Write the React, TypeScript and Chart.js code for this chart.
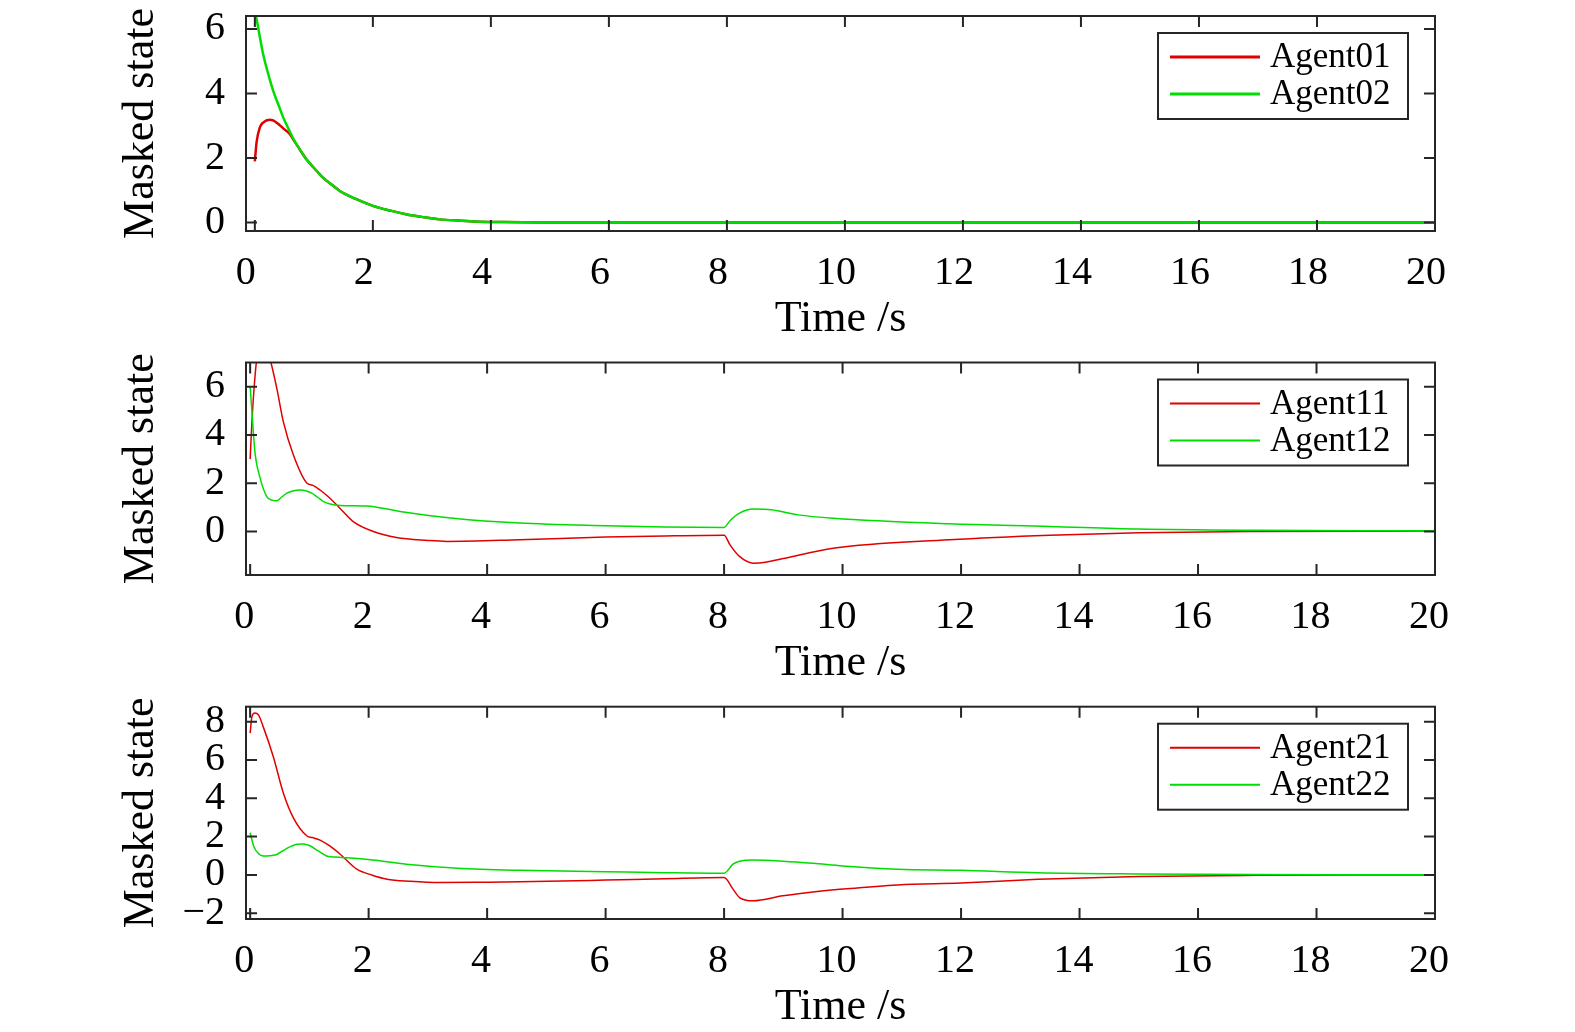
import React, { useEffect, useRef } from 'react';
import { Chart, registerables } from 'chart.js';

Chart.register(...registerables);

const FONT = 'Liberation Serif';
const RED = '#e00000';
const GREEN = '#00dd00';

// shared axis ticks
const xTicks = [0, 2, 4, 6, 8, 10, 12, 14, 16, 18, 20];
const yTicksTop = [0, 2, 4, 6];
const yTicksMid = [0, 2, 4, 6];
const yTicksBot = [-2, 0, 2, 4, 6, 8];

// panel 1: Agent01 / Agent02
const t1 = [0, 0.03, 0.085, 0.14, 0.25, 0.31, 0.42, 0.48, 0.59, 0.65, 0.75, 0.87, 1.0, 1.15, 1.3, 1.44, 1.7, 2.0, 2.3, 2.56, 2.85, 3.13, 3.5, 3.8, 4.2, 5, 6, 8, 10, 12, 14, 16, 18, 20];
const agent01 = [1.9, 2.5, 2.95, 3.1, 3.19, 3.17, 3.02, 2.92, 2.75, 2.58, 2.3, 1.97, 1.7, 1.4, 1.18, 0.98, 0.74, 0.52, 0.37, 0.26, 0.17, 0.1, 0.06, 0.03, 0.015, 0.004, 0, 0, 0, 0, 0, 0, 0, 0];
const agent02 = [6.55, 6.3, 5.75, 5.22, 4.45, 4.09, 3.55, 3.26, 2.83, 2.6, 2.3, 1.97, 1.7, 1.4, 1.18, 0.98, 0.74, 0.52, 0.37, 0.26, 0.17, 0.1, 0.06, 0.03, 0.015, 0.004, 0, 0, 0, 0, 0, 0, 0, 0];

// panel 2: Agent11 / Agent12
const t11 = [0, 0.03, 0.084, 0.12, 0.18, 0.24, 0.3, 0.34, 0.45, 0.56, 0.73, 0.96, 1.05, 1.18, 1.3, 1.49, 1.74, 2.08, 2.47, 3.0, 3.32, 4.55, 6, 7, 8, 8.1, 8.26, 8.5, 8.7, 9.0, 9.84, 11.8, 13.5, 15, 17, 20];
const agent11 = [3.0, 4.55, 6.48, 7.3, 7.9, 7.9, 7.4, 7.1, 5.93, 4.55, 3.17, 2.0, 1.92, 1.72, 1.48, 1.03, 0.41, 0.0, -0.25, -0.37, -0.41, -0.34, -0.23, -0.18, -0.15, -0.55, -1.03, -1.31, -1.27, -1.12, -0.69, -0.34, -0.15, -0.05, 0.0, 0.02];
const t12 = [0, 0.03, 0.08, 0.17, 0.28, 0.37, 0.45, 0.52, 0.62, 0.72, 0.84, 0.95, 1.04, 1.14, 1.24, 1.35, 1.52, 1.97, 2.53, 3.43, 4.55, 6, 7, 8, 8.1, 8.26, 8.5, 8.8, 9.25, 9.84, 11.8, 13.5, 15, 17, 20];
const agent12 = [6.0, 4.97, 3.31, 2.2, 1.45, 1.3, 1.27, 1.4, 1.59, 1.68, 1.72, 1.68, 1.59, 1.42, 1.24, 1.14, 1.08, 1.06, 0.83, 0.55, 0.35, 0.24, 0.19, 0.17, 0.45, 0.76, 0.93, 0.9, 0.69, 0.55, 0.32, 0.21, 0.1, 0.05, 0.03];

// panel 3: Agent21 / Agent22
const t21 = [0, 0.03, 0.08, 0.14, 0.22, 0.39, 0.56, 0.73, 0.96, 1.05, 1.18, 1.35, 1.52, 1.8, 2.05, 2.31, 2.7, 3.2, 4.0, 4.55, 6, 7, 8, 8.15, 8.26, 8.49, 8.99, 9.5, 10, 10.93, 12, 13.3, 15, 17, 20];
const agent21 = [7.4, 8.26, 8.45, 8.35, 7.74, 6.18, 4.28, 2.98, 2.03, 1.95, 1.82, 1.5, 1.08, 0.3, 0.0, -0.22, -0.33, -0.4, -0.38, -0.36, -0.27, -0.2, -0.14, -0.74, -1.18, -1.35, -1.09, -0.89, -0.74, -0.52, -0.42, -0.23, -0.08, -0.02, 0.0];
const t22 = [0, 0.06, 0.14, 0.22, 0.33, 0.45, 0.6, 0.79, 0.9, 1.01, 1.15, 1.29, 1.45, 1.63, 2.0, 2.64, 3.5, 4.55, 6, 7, 8, 8.15, 8.26, 8.49, 8.99, 9.5, 10, 10.93, 12, 13.3, 15, 17, 20];
const agent22 = [2.2, 1.5, 1.12, 0.99, 1.0, 1.07, 1.35, 1.6, 1.62, 1.52, 1.25, 0.99, 0.93, 0.9, 0.8, 0.56, 0.35, 0.24, 0.17, 0.12, 0.09, 0.56, 0.71, 0.78, 0.72, 0.61, 0.47, 0.3, 0.24, 0.11, 0.05, 0.02, 0.01];

const zip = (t: number[], v: number[]) => t.map((x, i) => ({ x, y: v[i] }));

// draws the matlab style box, inward ticks on all sides and the legend
const boxPlugin = {
  id: 'matlabBox',
  afterDraw(chart: any, _args: any, opts: any) {
    const { ctx, chartArea: a, scales } = chart;
    ctx.save();
    ctx.strokeStyle = '#262626';
    ctx.lineWidth = 2;
    ctx.strokeRect(a.left, a.top, a.right - a.left, a.bottom - a.top);

    ctx.beginPath();
    scales.x.ticks.forEach((tk: any) => {
      const px = scales.x.getPixelForValue(tk.value);
      ctx.moveTo(px, a.bottom);
      ctx.lineTo(px, a.bottom - 11);
      ctx.moveTo(px, a.top);
      ctx.lineTo(px, a.top + 11);
    });
    scales.y.ticks.forEach((tk: any) => {
      const py = scales.y.getPixelForValue(tk.value);
      ctx.moveTo(a.left, py);
      ctx.lineTo(a.left + 11, py);
      ctx.moveTo(a.right, py);
      ctx.lineTo(a.right - 11, py);
    });
    ctx.stroke();

    // legend box
    const w = 250;
    const h = 86;
    const lx = a.right - 27 - w;
    const ly = a.top + 17;
    ctx.fillStyle = '#fff';
    ctx.fillRect(lx, ly, w, h);
    ctx.strokeStyle = '#262626';
    ctx.lineWidth = 2;
    ctx.strokeRect(lx, ly, w, h);
    ctx.font = `35px "${FONT}"`;
    ctx.textBaseline = 'middle';
    ctx.textAlign = 'left';
    chart.data.datasets.forEach((ds: any, i: number) => {
      const y = ly + 24 + i * 37;
      ctx.strokeStyle = ds.borderColor;
      ctx.lineWidth = opts.legendWidth;
      ctx.beginPath();
      ctx.moveTo(lx + 12, y);
      ctx.lineTo(lx + 102, y);
      ctx.stroke();
      ctx.fillStyle = '#000';
      ctx.fillText(ds.label, lx + 112, y + 1);
    });
    ctx.restore();
  },
};

const fmt = (v: any) => String(v).replace('-', '\u2212');

type PanelProps = {
  top: number;
  areaTop: number;
  xMin: number;
  yMin: number;
  yMax: number;
  yTicks: number[];
  labelOffset: number;
  lineWidth: number;
  series: { label: string; data: { x: number; y: number }[]; color: string; order: number }[];
};

const Panel = ({ top, areaTop, xMin, yMin, yMax, yTicks, labelOffset, lineWidth, series }: PanelProps) => {
  const chartRef = useRef<HTMLCanvasElement | null>(null);
  const chartInstance = useRef<Chart | null>(null);

  useEffect(() => {
    if (!chartRef.current) return;
    if (chartInstance.current) chartInstance.current.destroy();

    chartInstance.current = new Chart(chartRef.current, {
      type: 'line',
      data: {
        datasets: series.map((s) => ({
          label: s.label,
          data: s.data,
          borderColor: s.color,
          borderWidth: lineWidth,
          order: s.order,
          pointRadius: 0,
          cubicInterpolationMode: 'monotone',
          fill: false,
        })),
      },
      options: {
        animation: false,
        responsive: true,
        maintainAspectRatio: false,
        layout: { padding: { top: areaTop, right: 140, left: 0, bottom: 0 } },
        plugins: {
          legend: { display: false },
          tooltip: { enabled: false },
          matlabBox: { legendWidth: lineWidth + 0.5 },
        } as any,
        scales: {
          x: {
            type: 'linear',
            min: xMin,
            max: 20,
            grid: { display: false, drawTicks: false },
            border: { display: false },
            afterBuildTicks: (scale: any) => {
              scale.ticks = xTicks.map((value) => ({ value }));
            },
            afterFit: (scale: any) => {
              scale.height = 113;
              scale.paddingLeft = 0;
              scale.paddingRight = 0;
            },
            ticks: {
              autoSkip: false,
              maxRotation: 0,
              padding: 18,
              labelOffset,
              color: '#000',
              font: { family: FONT, size: 40 },
              callback: fmt,
            },
            title: {
              display: true,
              text: 'Time /s',
              color: '#000',
              font: { family: FONT, size: 44, lineHeight: 1.05 },
              padding: { top: 0, bottom: 1 },
            },
          },
          y: {
            type: 'linear',
            min: yMin,
            max: yMax,
            grid: { display: false, drawTicks: false },
            border: { display: false },
            afterBuildTicks: (scale: any) => {
              scale.ticks = yTicks.map((value) => ({ value }));
            },
            afterFit: (scale: any) => {
              scale.width = 246;
              scale.paddingTop = 0;
              scale.paddingBottom = 0;
            },
            ticks: {
              autoSkip: false,
              padding: 21,
              color: '#000',
              font: { family: FONT, size: 40 },
              callback: fmt,
            },
            title: {
              display: true,
              text: 'Masked state',
              color: '#000',
              font: { family: FONT, size: 44 },
              padding: { top: 115, bottom: 0 },
            },
          },
        },
      },
      plugins: [boxPlugin],
    } as any);

    return () => {
      if (chartInstance.current) {
        chartInstance.current.destroy();
        chartInstance.current = null;
      }
    };
  }, []);

  return (
    <div style={{ position: 'absolute', left: 0, top, width: 1575, height: 344 }}>
      <canvas ref={chartRef} />
    </div>
  );
};

export default function App() {
  return (
    <div style={{ position: 'absolute', left: 0, top: 0, width: 1575, height: 1032, background: '#fff', overflow: 'hidden' }}>
      <Panel
        top={0}
        areaTop={16}
        xMin={-0.15}
        yMin={-0.26}
        yMax={6.4}
        yTicks={yTicksTop}
        labelOffset={-9}
        lineWidth={2.5}
        series={[
          { label: 'Agent01', data: zip(t1, agent01), color: RED, order: 1 },
          { label: 'Agent02', data: zip(t1, agent02), color: GREEN, order: 0 },
        ]}
      />
      <Panel
        top={344}
        areaTop={18.5}
        xMin={-0.07}
        yMin={-1.8}
        yMax={7}
        yTicks={yTicksMid}
        labelOffset={-6}
        lineWidth={1.5}
        series={[
          { label: 'Agent11', data: zip(t11, agent11), color: RED, order: 1 },
          { label: 'Agent12', data: zip(t12, agent12), color: GREEN, order: 0 },
        ]}
      />
      <Panel
        top={688}
        areaTop={18.7}
        xMin={-0.07}
        yMin={-2.3}
        yMax={8.78}
        yTicks={yTicksBot}
        labelOffset={-6}
        lineWidth={1.5}
        series={[
          { label: 'Agent21', data: zip(t21, agent21), color: RED, order: 1 },
          { label: 'Agent22', data: zip(t22, agent22), color: GREEN, order: 0 },
        ]}
      />
    </div>
  );
}
